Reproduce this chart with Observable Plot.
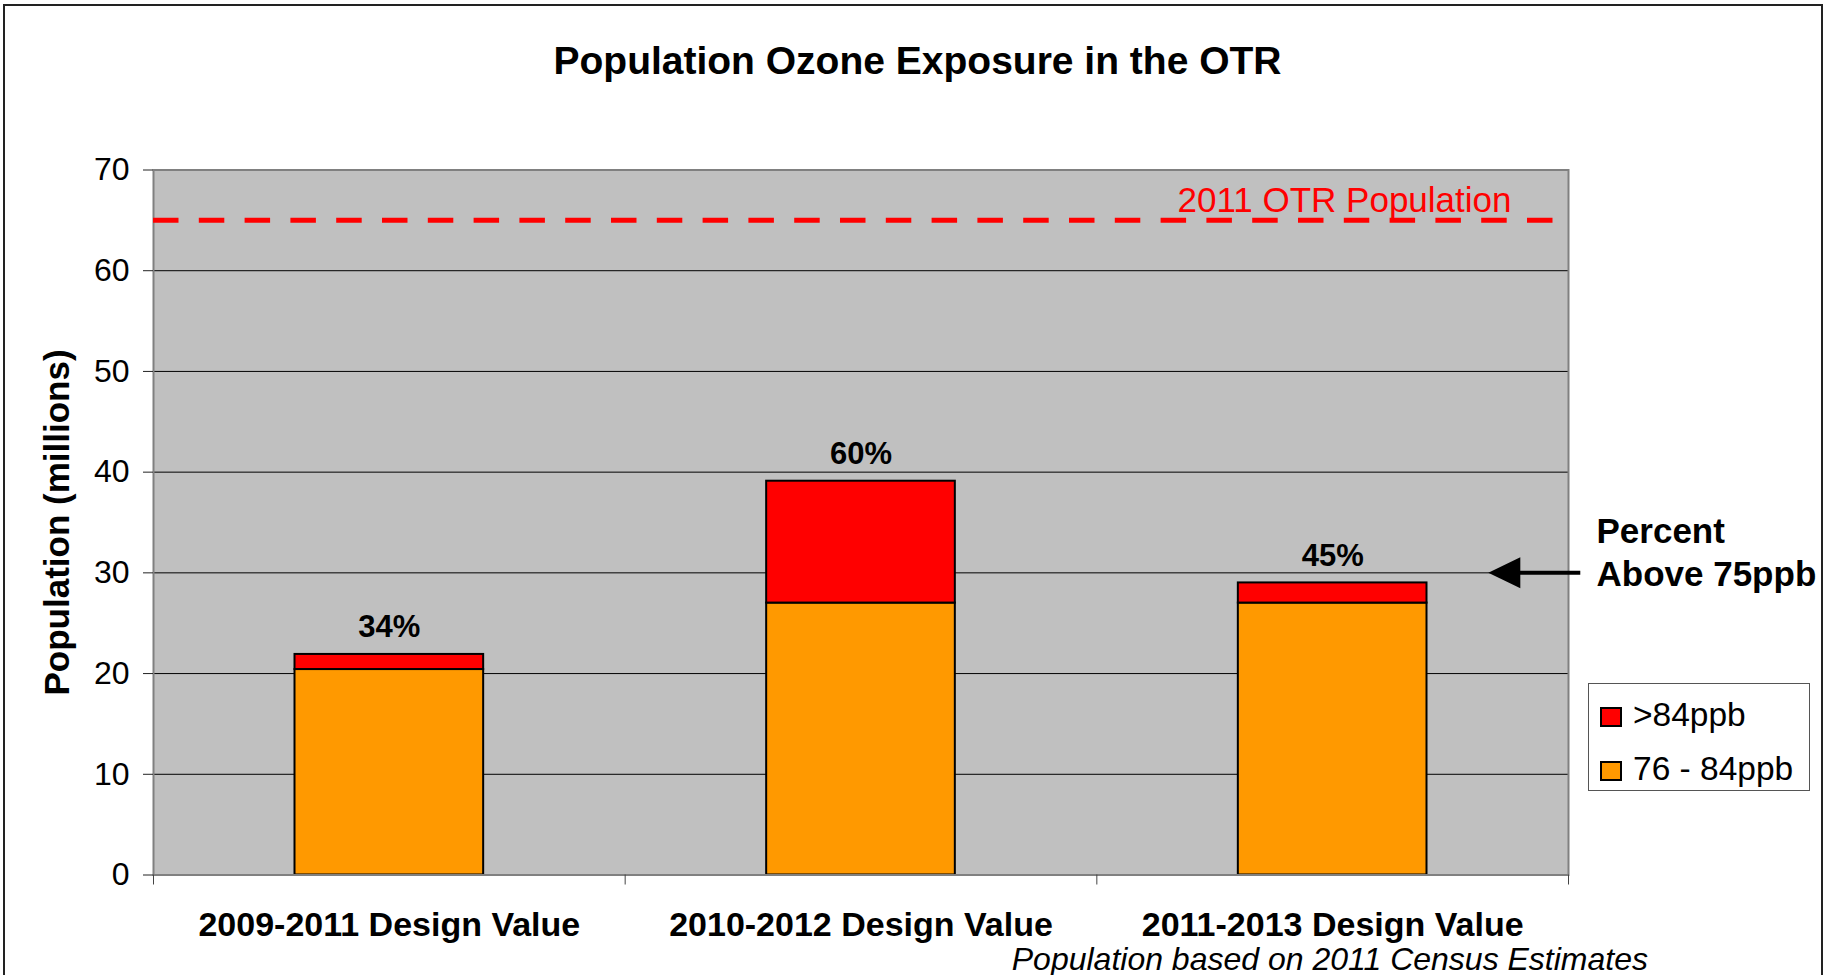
<!DOCTYPE html>
<html>
<head>
<meta charset="utf-8">
<script src="https://cdn.jsdelivr.net/npm/d3@7"></script>
<script src="https://cdn.jsdelivr.net/npm/@observablehq/plot@0.6"></script>
<style>
  html, body { margin: 0; padding: 0; background: #fff; overflow: hidden; }
  body { width: 1833px; height: 975px; position: relative; font-family: "Liberation Sans", Arial, sans-serif; }
  #frame { position: absolute; left: 3px; top: 4px; width: 1816px; height: 1000px; border: 2px solid #222; box-sizing: content-box; }
  #title { position: absolute; left: 0; top: 41px; width: 1835px; text-align: center; font-weight: bold; font-size: 39px; line-height: 39px; color: #000; }
  #chart { position: absolute; left: 0; top: 0; }
  #caption { position: absolute; right: 185px; top: 943px; font-style: italic; font-size: 32px; line-height: 32px; color: #000; white-space: nowrap; }
  #legend { position: absolute; left: 1588px; top: 683px; width: 220px; height: 106px; border: 1px solid #555; background: #fff; }
  .item { position: absolute; left: 11px; height: 36px; white-space: nowrap; font-size: 33.5px; line-height: 33.5px; color: #000; }
  .sw { position: absolute; left: 0; top: 8px; width: 18px; height: 16px; border: 2px solid #000; }
  .lbl { position: absolute; left: 33px; top: -1px; }
</style>
</head>
<body>
<div id="frame"></div>
<div id="chart"></div>
<div id="title"></div>
<div id="legend"></div>
<div id="caption"></div>
<script>
// ---- data ----
const titleText = "Population Ozone Exposure in the OTR";
const yLabel = "Population (millions)";
const captionText = "Population based on 2011 Census Estimates";
const categories = ["2009-2011 Design Value", "2010-2012 Design Value", "2011-2013 Design Value"];
const range76to84 = [20.4, 27.0, 27.0];   // 76 - 84ppb (millions)
const above84 = [1.5, 12.1, 2.0];         // >84ppb (millions)
const percentAbove75 = [34, 60, 45];
const otrPopulation = 65;
const otrLabel = "2011 OTR Population";
const yTicks = [0, 10, 20, 30, 40, 50, 60, 70];
const seriesNames = [">84ppb", "76 - 84ppb"];
const seriesColors = ["#FF0000", "#FF9900"];
const annotationLines = ["Percent", "Above 75ppb"];
const annotationValue = 30;

// ---- derived table ----
const rows = categories.map((c, i) => ({
  i, category: c,
  low: range76to84[i],
  total: range76to84[i] + above84[i],
  pct: percentAbove75[i] + "%"
}));

const arrowHead = {
  draw(ctx) {
    ctx.moveTo(0, 0);
    ctx.lineTo(32, -15.5);
    ctx.lineTo(32, 15.5);
    ctx.closePath();
  }
};

const halfBar = 0.2;

const chart = Plot.plot({
  width: 1833,
  height: 975,
  marginLeft: 153,
  marginRight: 265,
  marginTop: 169.5,
  marginBottom: 100.5,
  style: { fontFamily: "'Liberation Sans', Arial, sans-serif", background: "transparent", overflow: "visible" },
  x: { domain: [0, categories.length], axis: null },
  y: { domain: [0, 70], axis: null },
  marks: [
    Plot.frame({ fill: "#C0C0C0", stroke: "none" }),
    Plot.ruleY(yTicks.filter(t => t > 0 && t < 70), { stroke: "#000", strokeWidth: 1 }),
    // 76 - 84ppb
    Plot.rectY(rows, {
      x1: d => d.i + 0.5 - halfBar, x2: d => d.i + 0.5 + halfBar,
      y1: 0, y2: "low", fill: seriesColors[1], stroke: "#000", strokeWidth: 2
    }),
    // >84ppb
    Plot.rectY(rows, {
      x1: d => d.i + 0.5 - halfBar, x2: d => d.i + 0.5 + halfBar,
      y1: "low", y2: "total", fill: seriesColors[0], stroke: "#000", strokeWidth: 2
    }),
    Plot.frame({ stroke: "#808080", strokeWidth: 2 }),
    // y axis
    Plot.axisY({ ticks: yTicks, tickSize: 10, tickPadding: 14, fontSize: 32, label: null, stroke: "#222" }),
    // x axis boundary ticks
    Plot.axisX({ ticks: d3.range(0, categories.length + 1), tickSize: 10, tickFormat: () => "", label: null, stroke: "#444" }),
    // x axis category labels
    Plot.axisX({ ticks: categories.map((c, i) => i + 0.5), tickSize: 0, tickPadding: 37, tickFormat: v => categories[Math.floor(v)], fontSize: 34, fontWeight: "bold", label: null }),
    // y axis title
    Plot.text([yLabel], { frameAnchor: "left", y: () => 35, text: d => d, rotate: -90, dx: -96, fontSize: 35, fontWeight: "bold", textAnchor: "middle", lineAnchor: "middle" }),
    // percent labels
    Plot.text(rows, { x: d => d.i + 0.5, y: "total", text: "pct", dy: -17, lineAnchor: "bottom", fontSize: 31, fontWeight: "bold" }),
    // OTR population line
    Plot.ruleY([otrPopulation], { stroke: "#FF0000", strokeWidth: 5, strokeDasharray: "25.5,20.3" }),
    Plot.text([otrLabel], { y: () => otrPopulation, frameAnchor: "right", text: d => d, dx: -57, dy: -8, textAnchor: "end", lineAnchor: "bottom", fill: "#FF0000", fontSize: 35 }),
    // arrow annotation
    Plot.link([annotationValue], { x1: () => 3.025, x2: () => 2.89, y1: d => d, y2: d => d, stroke: "#000", strokeWidth: 4 }),
    Plot.dot([annotationValue], { x: () => 2.83, y: d => d, symbol: arrowHead, r: 10, fill: "#000", stroke: "none" }),
    Plot.text([annotationLines[0]], { y: () => annotationValue, frameAnchor: "right", text: d => d, dx: 28, dy: -30, textAnchor: "start", lineAnchor: "bottom", fontSize: 35, fontWeight: "bold" }),
    Plot.text([annotationLines[1]], { y: () => annotationValue, frameAnchor: "right", text: d => d, dx: 28, dy: 13, textAnchor: "start", lineAnchor: "bottom", fontSize: 35, fontWeight: "bold" })
  ]
});
document.getElementById("chart").appendChild(chart);
document.getElementById("title").textContent = titleText;
document.getElementById("caption").textContent = captionText;

// legend
const legend = document.getElementById("legend");
seriesNames.forEach((name, k) => {
  const item = document.createElement("div");
  item.className = "item";
  item.style.top = (15 + k * 54) + "px";
  const sw = document.createElement("span");
  sw.className = "sw";
  sw.style.background = seriesColors[k];
  const lbl = document.createElement("span");
  lbl.className = "lbl";
  lbl.textContent = name;
  item.appendChild(sw);
  item.appendChild(lbl);
  legend.appendChild(item);
});
</script>
</body>
</html>
